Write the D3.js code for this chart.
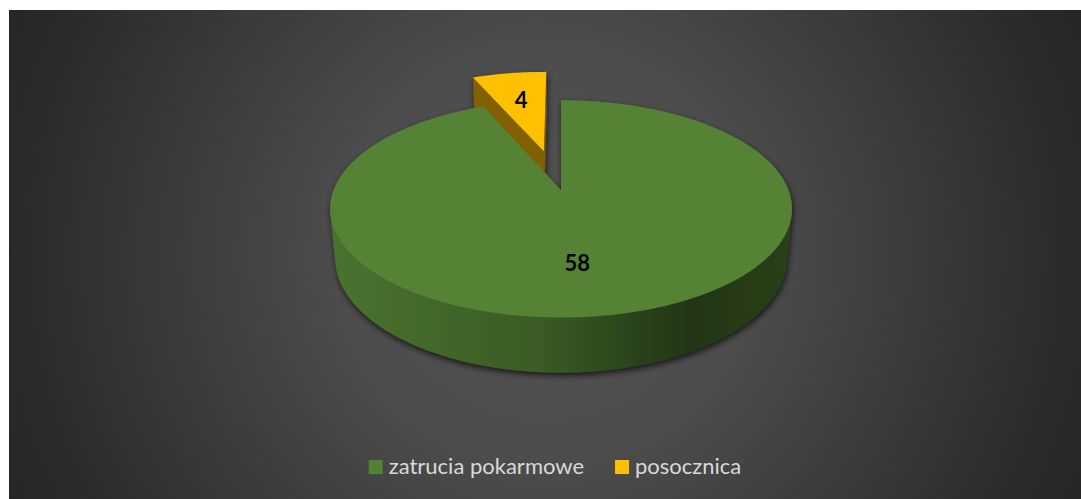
<!DOCTYPE html>
<html>
<head>
<meta charset="utf-8">
<script src="https://cdn.jsdelivr.net/npm/d3@7"></script>
<style>
  html, body { margin: 0; padding: 0; background: #ffffff; }
  svg { display: block; }
</style>
</head>
<body>
<svg id="chart" width="1081" height="499"></svg>
<script>
// Data
const categories = ["zatrucia pokarmowe", "posocznica"];
const values = [58, 4];

const W = 1081, H = 499;
const svg = d3.select("#chart");
const defs = svg.append("defs");

// Chart area background: dark radial gradient
const bgGrad = defs.append("radialGradient")
  .attr("id", "bgGrad")
  .attr("gradientUnits", "userSpaceOnUse")
  .attr("cx", 545).attr("cy", 255).attr("r", 600);
[[0, "#535353"], [0.35, "#4c4c4c"], [0.85, "#2c2c2c"], [1, "#252525"]]
  .forEach(([o, c]) => bgGrad.append("stop").attr("offset", o).attr("stop-color", c));
svg.append("rect")
  .attr("x", 9).attr("y", 10)
  .attr("width", W - 9).attr("height", H - 10)
  .attr("fill", "url(#bgGrad)");

// Soft outer shadow under the pie
const shadow = defs.append("filter").attr("id", "pieShadow")
  .attr("x", "-20%").attr("y", "-20%").attr("width", "140%").attr("height", "140%");
shadow.append("feDropShadow")
  .attr("dx", 1).attr("dy", 3).attr("stdDeviation", 3)
  .attr("flood-color", "#000").attr("flood-opacity", 0.7);

const color = d3.scaleOrdinal().domain(categories).range(["#548235", "#ffc000"]);
const explodeBy = { "posocznica": 0.4 };   // in units of the pie radius

// Simple perspective camera for the 3D pie (units: pie radius)
const cx = 561, cy = 190;
const dist = 5.1, focal = 1160;
const sinT = 0.4634, cosT = Math.sqrt(1 - sinT * sinT);
const thick = 0.246;
const cam = [0, dist * sinT, dist * cosT];

function project(X, Y, Z) {
  const up = Y * cosT - Z * sinT;
  const depth = dist - (Y * sinT + Z * cosT);
  return [cx + focal * X / depth, cy - focal * up / depth];
}

const pie = d3.pie().sort(null).value(d => d.value).startAngle(0).endAngle(2 * Math.PI);
const slices = pie(categories.map((c, i) => ({ category: c, value: values[i] })));

slices.forEach(s => {
  const off = explodeBy[s.data.category] || 0;
  const mid = (s.startAngle + s.endAngle) / 2;
  s.off = off;
  s.ox = off * Math.sin(mid);
  s.oz = -off * Math.cos(mid);
  s.mid = mid;
  s.pt = (theta, r, Y) => project(s.ox + r * Math.sin(theta), Y, s.oz - r * Math.cos(theta));
  s.depthKey = s.oz - 0.5 * Math.cos(mid);
});

const line = d3.line().curve(d3.curveLinearClosed);
const pieG = svg.append("g").attr("filter", "url(#pieShadow)");

// Side wall gradient for each slice colour
categories.forEach((c, i) => {
  const base = d3.color(color(c));
  const g = defs.append("linearGradient")
    .attr("id", "wall" + i)
    .attr("gradientUnits", "userSpaceOnUse")
    .attr("x1", 331).attr("x2", 792).attr("y1", 0).attr("y2", 0);
  [[0, 0.35], [0.45, 1.0], [0.78, 2.5], [1, 2.0]]
    .forEach(([o, k]) => g.append("stop").attr("offset", o).attr("stop-color", base.darker(k)));
});

function visible(normal, P) {
  const v = [cam[0] - P[0], cam[1] - P[1], cam[2] - P[2]];
  return normal[0] * v[0] + normal[1] * v[1] + normal[2] * v[2] > 0;
}

slices.slice().sort((a, b) => a.depthKey - b.depthKey).forEach(s => {
  const idx = categories.indexOf(s.data.category);
  const base = d3.color(color(s.data.category));
  const g = pieG.append("g");
  const n = Math.max(8, Math.ceil((s.endAngle - s.startAngle) / (Math.PI / 180)));
  const thetas = d3.range(n + 1).map(k => s.startAngle + (s.endAngle - s.startAngle) * k / n);

  // radial faces
  [[s.startAngle, -1], [s.endAngle, 1]].forEach(([th, dir]) => {
    const normal = [dir * Math.cos(th), 0, dir * Math.sin(th)];
    const P = [s.ox + 0.5 * Math.sin(th), -thick / 2, s.oz - 0.5 * Math.cos(th)];
    if (!visible(normal, P)) return;
    const pts = [s.pt(th, 0, 0), s.pt(th, 1, 0), s.pt(th, 1, -thick), s.pt(th, 0, -thick)];
    g.append("path").attr("d", line(pts)).attr("fill", base.darker(1.9));
  });

  // outer curved wall (visible runs only)
  let runs = [], cur = [];
  thetas.forEach(th => {
    const normal = [Math.sin(th), 0, -Math.cos(th)];
    const P = [s.ox + Math.sin(th), -thick / 2, s.oz - Math.cos(th)];
    if (visible(normal, P)) cur.push(th);
    else { if (cur.length > 1) runs.push(cur); cur = []; }
  });
  if (cur.length > 1) runs.push(cur);
  runs.forEach(run => {
    const top = run.map(th => s.pt(th, 1, 0));
    const bot = run.map(th => s.pt(th, 1, -thick)).reverse();
    g.append("path").attr("d", line(top.concat(bot))).attr("fill", `url(#wall${idx})`);
  });

  // top face
  const topPts = [s.pt(s.startAngle, 0, 0)].concat(thetas.map(th => s.pt(th, 1, 0)));
  g.append("path").attr("d", line(topPts)).attr("fill", base);
});

// Data labels on the top face; the label of a slice that stays in place
// is nudged a little toward the front
slices.forEach(s => {
  const p = s.pt(s.mid + (s.off ? 0 : 0.1), 0.62, 0);
  svg.append("text")
    .attr("x", p[0]).attr("y", p[1]).attr("dy", "0.36em")
    .attr("text-anchor", "middle")
    .attr("font-family", "Lato, 'Open Sans', sans-serif")
    .attr("font-weight", "bold")
    .attr("font-size", 22)
    .attr("fill", "#000")
    .text(s.data.value);
});

// Legend
const legend = svg.append("g");
const items = legend.selectAll("g").data(categories).join("g");
items.append("rect")
  .attr("width", 14).attr("height", 14).attr("y", -14)
  .attr("fill", d => color(d));
items.append("text")
  .attr("x", 20).attr("y", 0)
  .attr("font-family", "Lato, 'Open Sans', sans-serif")
  .attr("font-size", 22)
  .attr("fill", "#d9d9d9")
  .text(d => d);
let xpos = 0;
items.each(function () {
  const w = 20 + d3.select(this).select("text").node().getComputedTextLength();
  d3.select(this).attr("transform", `translate(${xpos},0)`);
  xpos += w + 31;
});
const totalW = xpos - 31;
legend.attr("transform", `translate(${555 - totalW / 2},474)`);
</script>
</body>
</html>
